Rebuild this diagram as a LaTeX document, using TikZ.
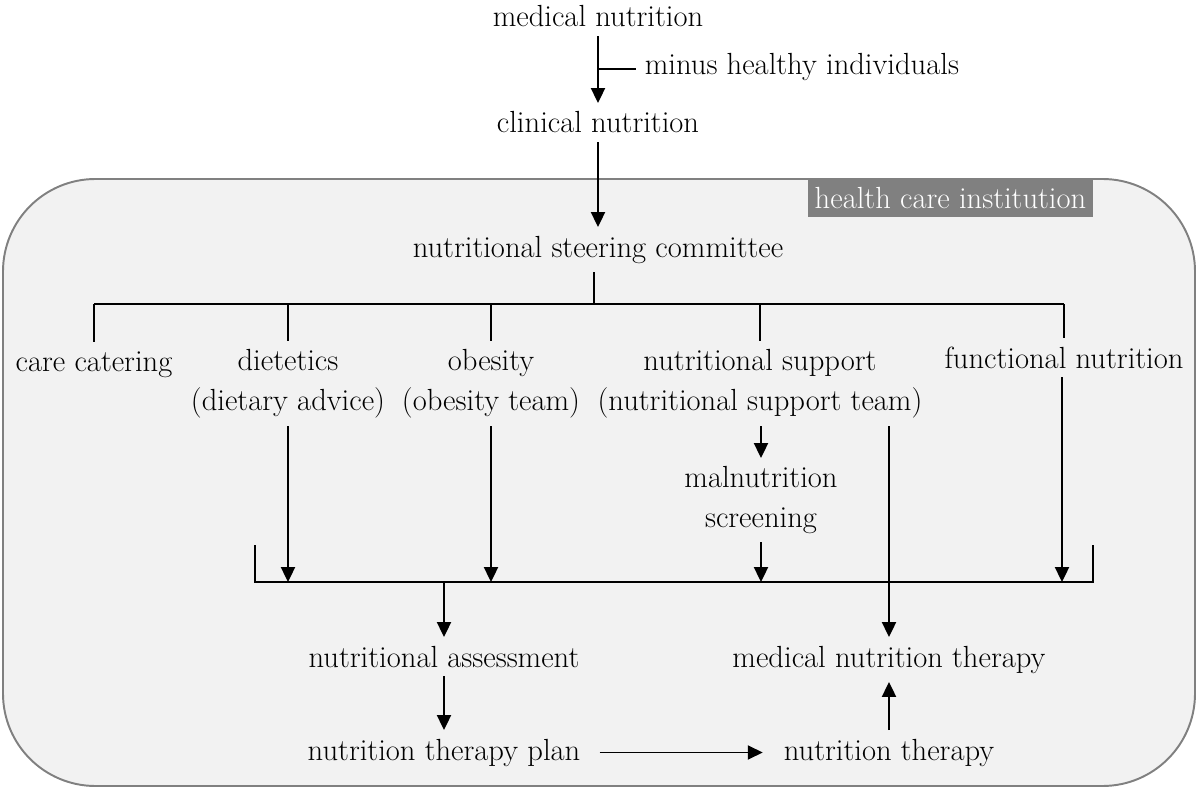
\documentclass[tikz,border=0pt]{standalone}
\usepackage{fontspec}
\usetikzlibrary{arrows.meta}
\definecolor{boxfill}{HTML}{F2F2F2}
\definecolor{boxline}{HTML}{808080}
\definecolor{tagfill}{HTML}{808080}
\tikzset{
  lbl/.style={anchor=base, inner sep=0pt, outer sep=5pt, align=center,
    font=\fontsize{17.4}{22.2}\selectfont},
  flow/.style={-{Triangle[width=8pt,length=8.5pt]}, line width=1.1pt},
  link/.style={line width=1.1pt},
}
\begin{document}
\begin{tikzpicture}[x=0.02cm, y=-0.02cm]
  \useasboundingbox (0,0) rectangle (1197,787);
  % Institution frame
  \draw[draw=boxline, fill=boxfill, line width=1.1pt, rounded corners=1.85cm]
        (3,179) rectangle (1195,786);
  \node[lbl, anchor=center, fill=tagfill, text=white, outer sep=0pt,
        minimum width=5.7cm, minimum height=0.74cm] (tag) at (950.5,198.5)
        {health care institution};

  % Top chain
  \node[lbl] (med) at (598,27) {medical nutrition};
  \node[lbl, anchor=base west] (minus) at (636,75) {minus healthy individuals};
  \node[lbl] (clin) at (598,133) {clinical nutrition};
  \node[lbl] (steer) at (598,257) {nutritional steering committee};
  \coordinate (split) at (598,69);
  \draw[flow] (med) -- (clin);
  \draw[link] (split) -- (split -| minus.west);
  \draw[flow] (clin) -- (steer);

  % Branches (base = last line)
  \node[lbl] (cater) at (94,371) {care catering};
  \node[lbl] (diet) at (288,410) {dietetics\\(dietary advice)};
  \node[lbl] (obes) at (491,410) {obesity\\(obesity team)};
  \node[lbl] (nsup) at (760,410) {nutritional support\\(nutritional support team)};
  \node[lbl] (func) at (1064,368) {functional nutrition};
  \coordinate (topL) at (94,304);
  \coordinate (topR) at (1064,304);
  \draw[link] (steer.south -| 594,0) -- (594,304);
  \draw[link] (topL) -- (topR);
  \foreach \n in {cater,diet,obes,nsup,func}
    \draw[link] (\n.north |- topL) -- (\n.north);

  % Screening
  \node[lbl] (maln) at (761,527) {malnutrition\\screening};
  \draw[flow] (nsup.south -| maln) -- (maln.north);

  % Collecting bar
  \coordinate (botL) at (255,582);
  \coordinate (botR) at (1093,582);
  \draw[link] (botL) ++(0,-37) -- (botL) -- (botR) -- ++(0,-37);
  \draw[flow] (diet.south) -- (diet.south |- botL);
  \draw[flow] (obes.south) -- (obes.south |- botL);
  \draw[flow] (maln.south) -- (maln.south |- botL);
  \draw[flow] (func.south -| 1062,0) -- (1062,582);

  % Therapy
  \node[lbl] (assess) at (444,667) {nutritional assessment};
  \node[lbl] (mnt) at (889,667) {medical nutrition therapy};
  \node[lbl] (plan) at (444,760) {nutrition therapy plan};
  \node[lbl] (nt) at (889,760) {nutrition therapy};
  \coordinate (asIn) at (444,582);
  \draw[flow] (asIn) -- (assess);
  \draw[flow] (nsup.south -| mnt) -- (mnt.north);
  \draw[flow] (assess) -- (plan);
  \draw[flow, shorten <=6pt, shorten >=7pt] (plan) -- (nt);
  \draw[flow] (nt) -- (mnt);
\end{tikzpicture}
\end{document}
